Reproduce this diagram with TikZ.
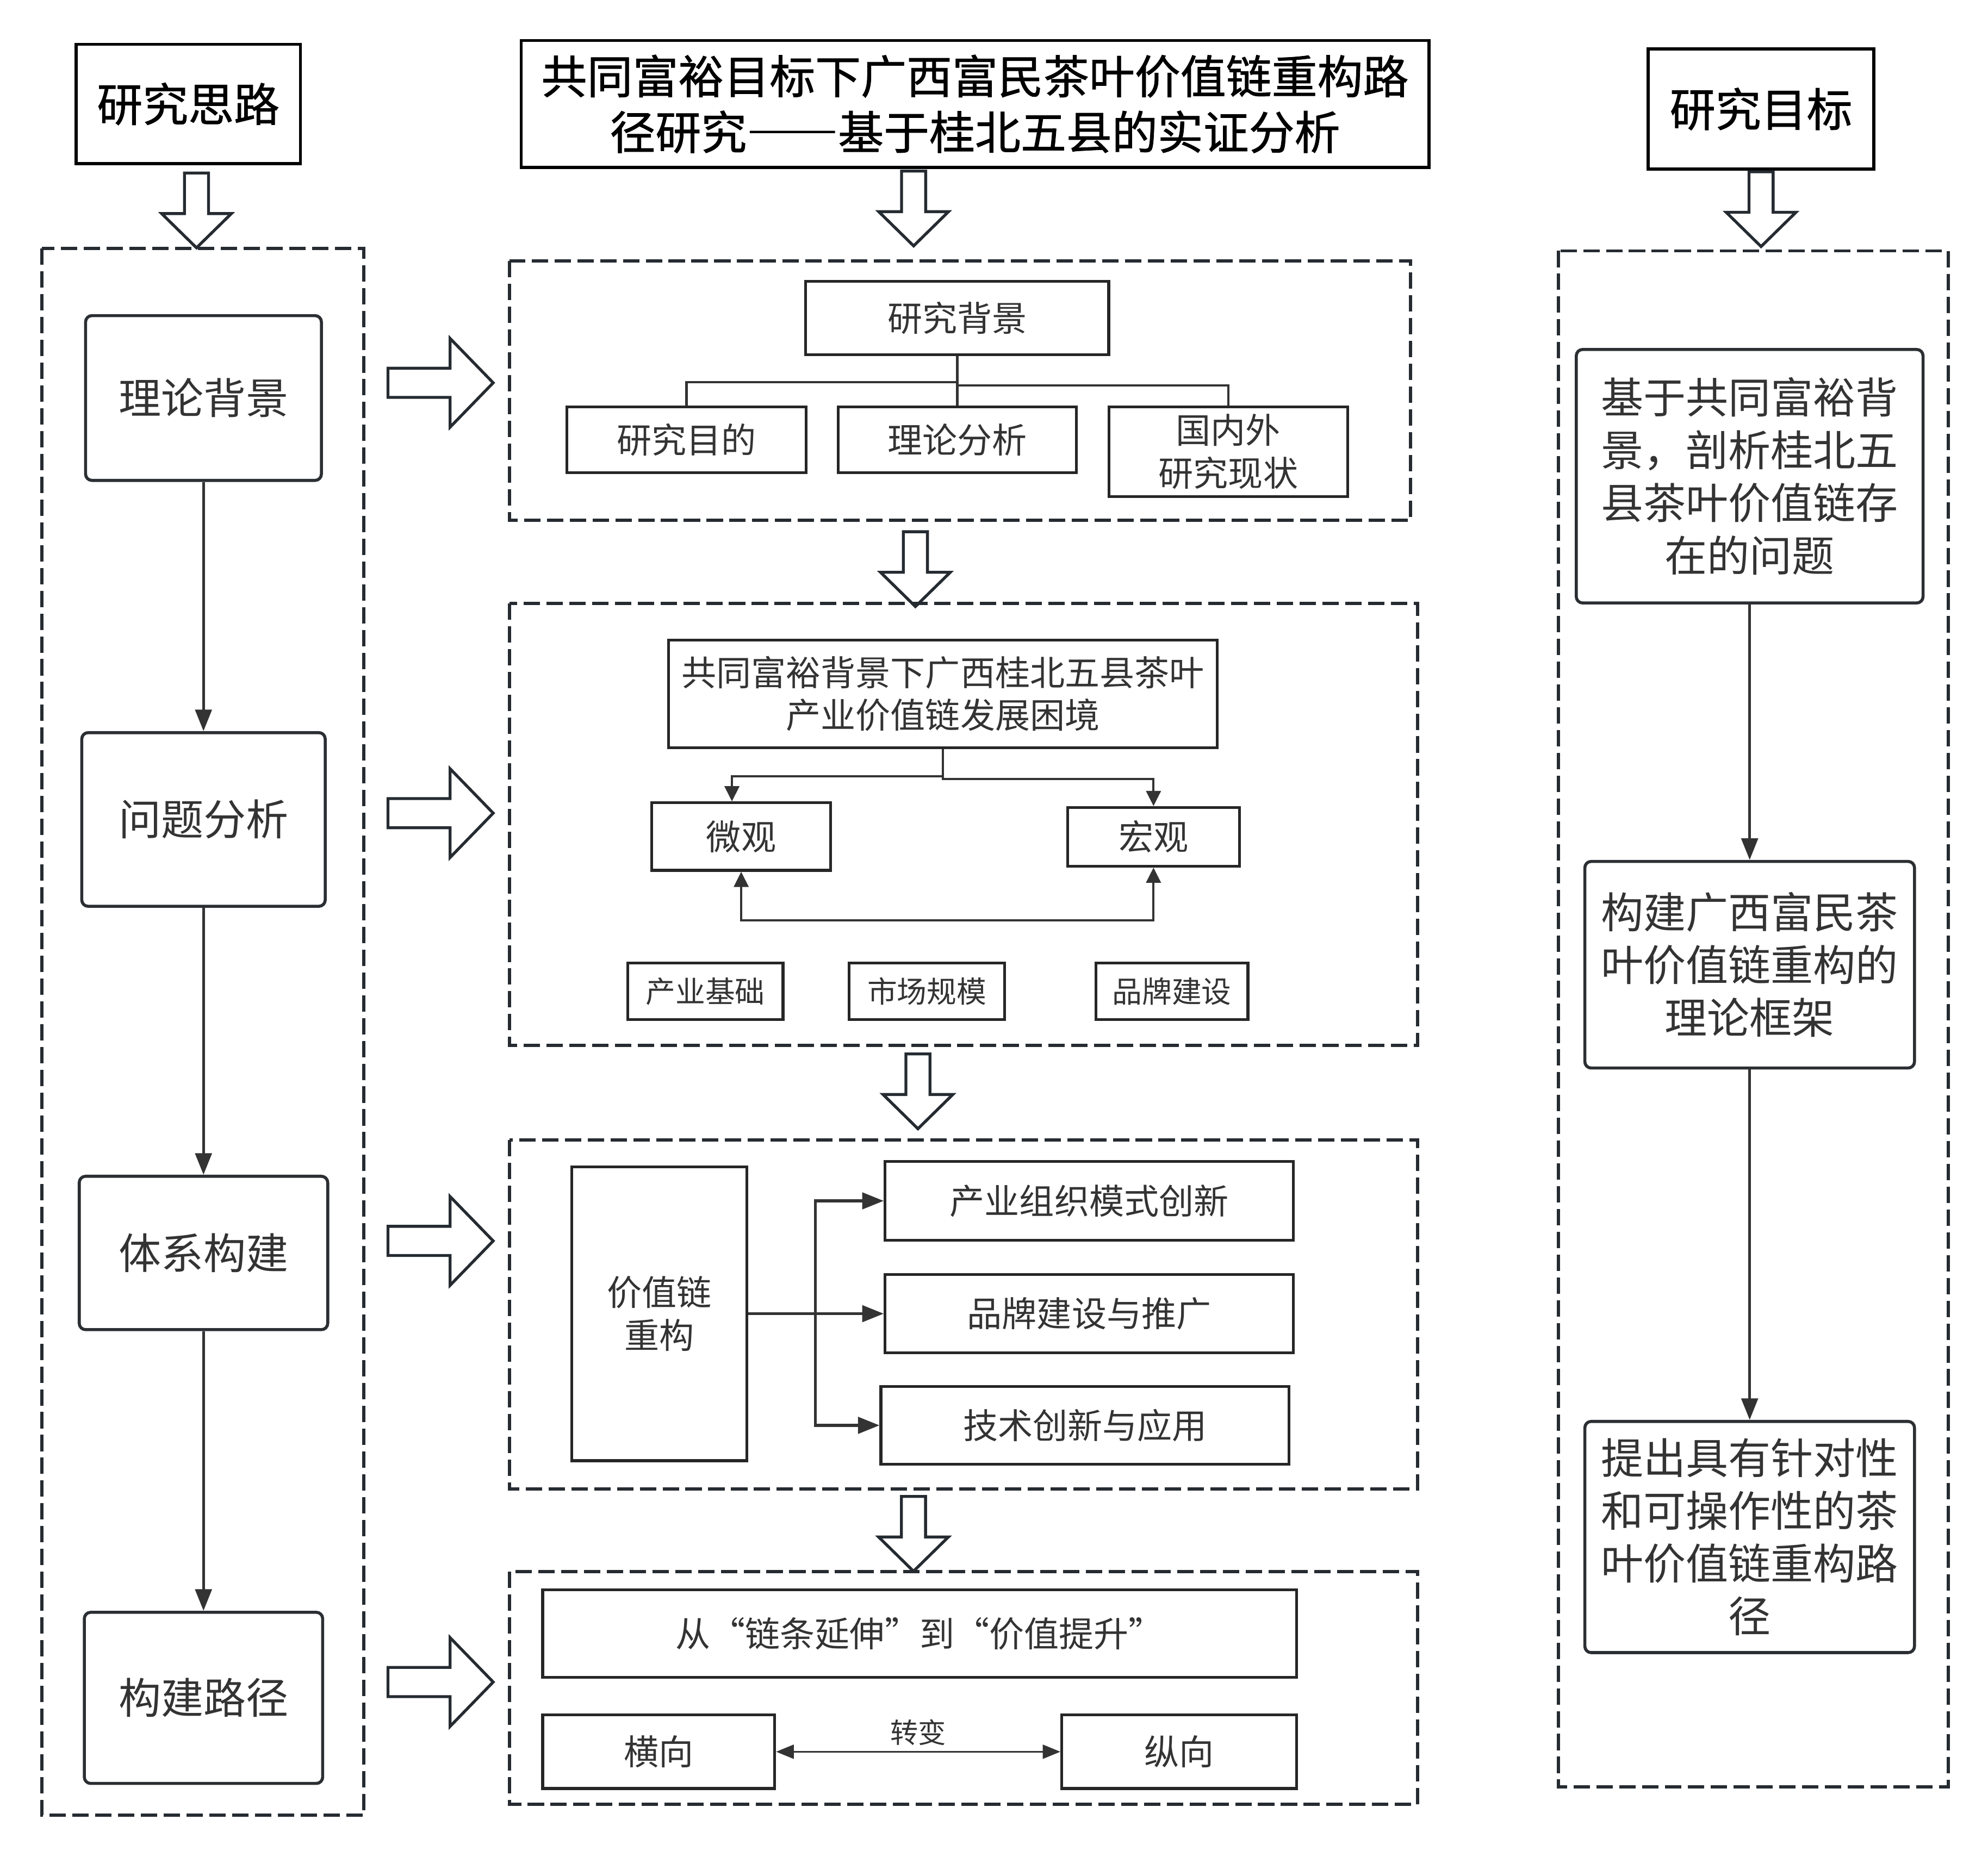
\documentclass[tikz,border=0pt]{standalone}
\usepackage{fontspec}
\setmainfont{Noto Sans CJK SC}
\newfontfamily\fwfont[RawFeature=+fwid]{Noto Sans CJK SC}
\newfontfamily\headfont[RawFeature=+fwid, FakeBold=1]{Noto Sans CJK SC}
\usepackage{xcolor}
\usepackage{tikz}
\usetikzlibrary{arrows.meta}

\definecolor{BoxLine}{HTML}{2B2F33}
\definecolor{DashLine}{HTML}{252B31}
\definecolor{TextGray}{HTML}{333333}

\tikzset{
  headbox/.style={draw=black, line width=2.4pt, text=black, align=center, inner sep=0pt,
    font=\headfont\fontsize{36}{44}\selectfont},
  stagebox/.style={draw=BoxLine, line width=2.4pt, rounded corners=5pt, text=TextGray,
    align=center, inner sep=0pt, font=\fontsize{33.5}{41.5}\selectfont},
  itembox/.style={draw=black!85, line width=2.2pt, text=TextGray, align=center, inner sep=0pt,
    font=\fontsize{27.5}{33.5}\selectfont},
  smallbox/.style={itembox, font=\fontsize{23.5}{28}\selectfont},
  frame/.style={draw=DashLine, line width=2.5pt, dash pattern=on 12.9pt off 5.1pt},
  hollow/.style={draw=DashLine, line width=2.3pt, fill=white, line join=miter},
  flow/.style={draw=TextGray, line width=2.2pt, -{Triangle[length=17pt,width=13pt]}},
  branch/.style={draw=TextGray, line width=1.8pt},
  branchflow/.style={branch, -{Triangle[length=12pt,width=11.5pt]}},
  downblock/.pic={\draw[hollow] (-9.5,0) -- (-9.5,32) -- (-27.5,32) -- (0,59)
    -- (27.5,32) -- (9.5,32) -- (9.5,0) -- cycle;},
  rightblock/.pic={\draw[hollow] (0,-11.5) -- (49,-11.5) -- (49,-35) -- (83,0)
    -- (49,35) -- (49,11.5) -- (0,11.5) -- cycle;}
}

\begin{document}
\begin{tikzpicture}[x=1pt, y=-1pt]
  \useasboundingbox (0,0) rectangle (1568,1465);

  % titres
  \node[headbox, minimum width=177, minimum height=94] (ideas) at (148.5,82) {研究思路};
  \node[headbox, minimum width=716, minimum height=100] (title) at (769,82)
    {共同富裕目标下广西富民茶叶价值链重构路\\径研究——基于桂北五县的实证分析};
  \node[headbox, minimum width=178, minimum height=95] (goals) at (1389,86) {研究目标};
  \pic at (155,136.5) {downblock};
  \pic at (720.6,135) {downblock};
  \pic at (1389,135.5) {downblock};

  % colonne gauche
  \draw[frame] (33,196) rectangle (287,1432);
  \node[stagebox, minimum width=186, minimum height=130] (theory) at (160.5,314) {理论背景};
  \node[stagebox, minimum width=192, minimum height=137] (problem) at (160.5,646.5) {问题分析};
  \node[stagebox, minimum width=196, minimum height=121] (system) at (160.5,988.5) {体系构建};
  \node[stagebox, minimum width=188, minimum height=135] (route) at (160.5,1339.5) {构建路径};
  \draw[flow] (theory) -- (problem);
  \draw[flow] (problem) -- (system);
  \draw[flow] (system) -- (route);
  \pic at (306,302) {rightblock};
  \pic at (306,641.5) {rightblock};
  \pic at (306,979) {rightblock};
  \pic at (306,1327) {rightblock};

  % bloc 1
  \draw[frame] (401.8,206) rectangle (1112.5,410.5);
  \node[itembox, minimum width=239, minimum height=58] (background) at (755,251) {研究背景};
  \node[itembox, minimum width=188.5, minimum height=52] (purpose) at (541.5,347) {研究目的};
  \node[itembox, minimum width=188, minimum height=52] (analysis) at (755,347) {理论分析};
  \node[itembox, minimum width=188, minimum height=70.6] (status) at (968.8,356.3) {国内外\\研究现状};
  \draw[branch] (background.south) -- (analysis.north);
  \draw[branch] (background.south) -- ++(0,20.5) -| (purpose.north);
  \draw[branch] (background.south) -- ++(0,23) -| (status.north);
  \pic at (722,419.5) {downblock};

  % bloc 2
  \draw[frame] (401.8,476) rectangle (1118,824.8);
  \node[itembox, minimum width=433, minimum height=85] (plight) at (743.7,547.4)
    {共同富裕背景下广西桂北五县茶叶\\产业价值链发展困境};
  \node[itembox, minimum width=141, minimum height=53.3] (micro) at (584.6,660) {微观};
  \node[itembox, minimum width=135.5, minimum height=46.3] (macro) at (909.8,660.2) {宏观};
  \draw[branchflow] (plight.south) -- ++(0,21.5) -| ([xshift=-7.3]micro.north);
  \draw[branchflow] (plight.south) -- ++(0,23.6) -| (macro.north);
  \draw[branchflow, {Triangle[length=12pt,width=11.5pt]}-{Triangle[length=12pt,width=11.5pt]}]
    (micro.south) -- ++(0,38.2) -| (macro.south);
  \node[smallbox, minimum width=122.6, minimum height=44.7] (base) at (556.3,782) {产业基础};
  \node[smallbox, minimum width=122.6, minimum height=44.7] (market) at (731.1,782) {市场规模};
  \node[smallbox, minimum width=120, minimum height=44.7] (brand) at (924.3,782) {品牌建设};
  \pic at (724,831.5) {downblock};

  % bloc 3
  \draw[frame] (401.8,899.4) rectangle (1118,1174.6);
  \node[itembox, minimum width=138, minimum height=232] (chain) at (520,1036.4) {价值链\\重构};
  \node[itembox, minimum width=322, minimum height=62] (org) at (859.1,947.4) {产业组织模式创新};
  \node[itembox, minimum width=322, minimum height=62] (promo) at (859.1,1036.4) {品牌建设与推广};
  \node[itembox, minimum width=322, minimum height=61.5] (tech) at (855.8,1124.5) {技术创新与应用};
  \coordinate (fork) at (643,1036.4);
  \draw[flow] (chain.east) -- (promo.west);
  \draw[flow] (fork) |- (org.west);
  \draw[flow] (fork) |- (tech.west);
  \pic at (720.5,1180.6) {downblock};

  % bloc 4
  \draw[frame] (401.8,1240) rectangle (1118,1423.6);
  \node[itembox, minimum width=594.6, minimum height=69] (shift) at (725.3,1288.8)
    {\fwfont 从“链条延伸”到“价值提升”};
  \node[itembox, minimum width=183, minimum height=58] (horiz) at (519.5,1382) {横向};
  \node[itembox, minimum width=185, minimum height=58] (vert) at (930,1382) {纵向};
  \draw[branch, line width=1.6pt, {Triangle[length=14pt,width=11pt]}-{Triangle[length=14pt,width=11pt]}]
    (horiz) -- node[above=4pt, inner sep=0pt, text=TextGray, font=\fontsize{22}{26}\selectfont] (turn) {转变} (vert);

  % colonne droite
  \draw[frame] (1229.2,197.9) rectangle (1536.5,1409.8);
  \node[stagebox, minimum width=273.5, minimum height=200] (goal1) at (1380,375.7)
    {基于共同富裕背\\景，剖析桂北五\\县茶叶价值链存\\在的问题};
  \node[stagebox, minimum width=260, minimum height=163] (goal2) at (1380,761.1)
    {构建广西富民茶\\叶价值链重构的\\理论框架};
  \node[stagebox, minimum width=260, minimum height=182.4] (goal3) at (1380,1212.6)
    {提出具有针对性\\和可操作性的茶\\叶价值链重构路\\径};
  \draw[flow] (goal1) -- (goal2);
  \draw[flow] (goal2) -- (goal3);
\end{tikzpicture}
\end{document}
